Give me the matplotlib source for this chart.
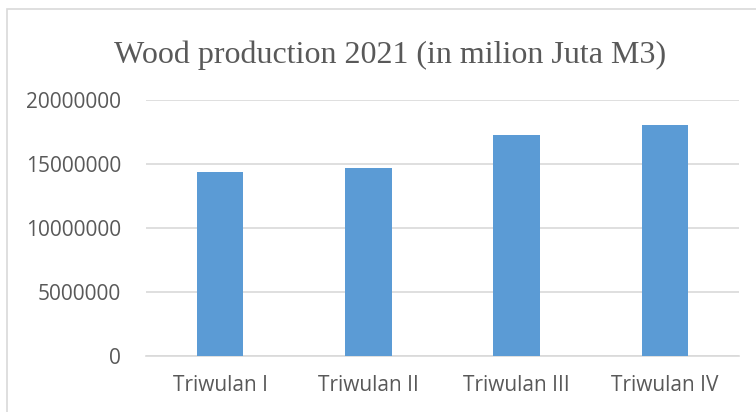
import matplotlib
matplotlib.use('Agg')
import matplotlib.pyplot as plt
from matplotlib.patches import Rectangle

# Data
categories = ["Triwulan I", "Triwulan II", "Triwulan III", "Triwulan IV"]
production = [14400000, 14650000, 17250000, 18050000]
y_ticks = [0, 5000000, 10000000, 15000000, 20000000]

TEXT = '#595959'
GRID = '#d9d9d9'
BAR = '#5b9bd5'

fig = plt.figure(figsize=(7.56, 4.12), dpi=100, facecolor='white')

# Chart border (light grey, runs off the right/bottom edges)
fig.patches.append(Rectangle((7 / 756, -0.05), 1.0, 1 - 9 / 412 + 0.05,
                             transform=fig.transFigure, fill=False,
                             edgecolor=GRID, linewidth=1.2))

ax = fig.add_axes([146 / 756, 1 - 356 / 412, (739 - 146) / 756, 256 / 412])
ax.bar(range(len(categories)), production, width=0.314, color=BAR, zorder=3)

ax.set_ylim(0, 20000000)
ax.set_xlim(-0.5, len(categories) - 0.5)
ax.set_yticks(y_ticks)
ax.set_yticklabels([str(v) for v in y_ticks])
ax.set_xticks(range(len(categories)))
ax.set_xticklabels(categories)

ax.grid(axis='y', color=GRID, linewidth=1.2, zorder=0)
for side in ['top', 'right', 'left']:
    ax.spines[side].set_visible(False)
ax.spines['bottom'].set_color(GRID)
ax.spines['bottom'].set_linewidth(1.2)

ax.tick_params(axis='both', length=0, colors=TEXT, labelsize=15)
ax.tick_params(axis='y', pad=18)
ax.tick_params(axis='x', pad=14)
for lbl in ax.get_xticklabels() + ax.get_yticklabels():
    lbl.set_fontfamily('Open Sans')

fig.text(390 / 756, 1 - 55 / 412, "Wood production 2021 (in milion Juta M3)",
         ha='center', va='center', color=TEXT, fontsize=23,
         fontfamily='Liberation Serif')

fig.savefig('out.png', dpi=100, facecolor='white')
